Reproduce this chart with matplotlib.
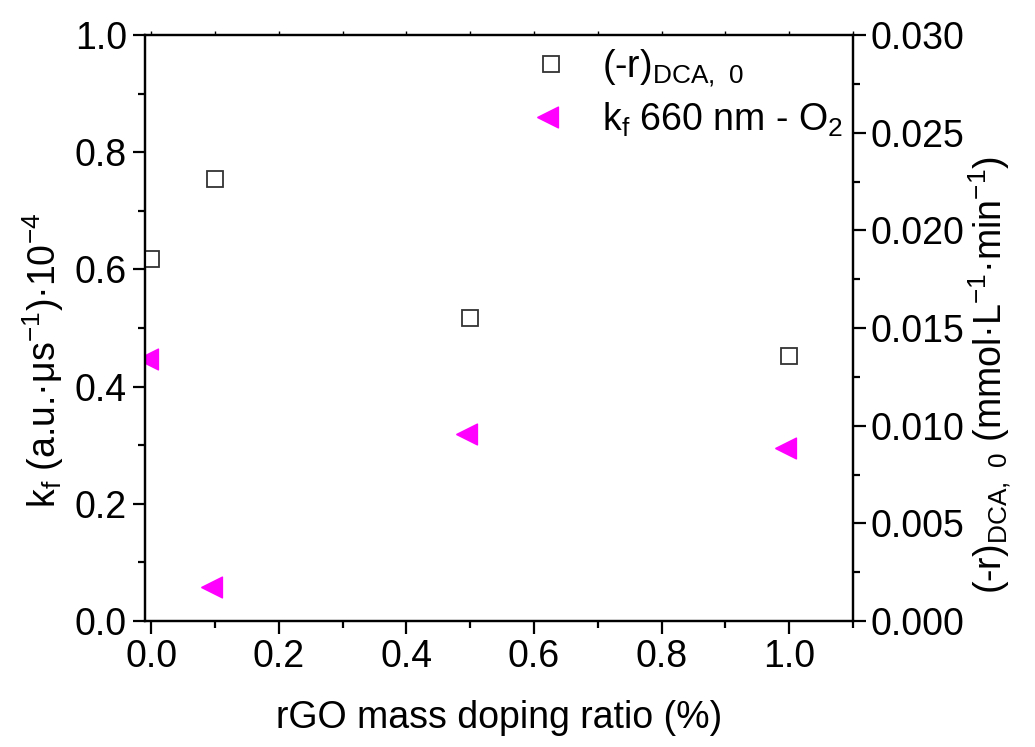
import numpy as np
import matplotlib.pyplot as plt
from matplotlib.ticker import MultipleLocator

plt.rcParams['font.family'] = ['Liberation Sans', 'DejaVu Sans']
plt.rcParams['mathtext.default'] = 'regular'

# data
doping = [0.0, 0.1, 0.5, 1.0]
rate_dca = [0.01854, 0.02265, 0.0155, 0.01358]   # right axis
kf_660 = [0.448, 0.058, 0.320, 0.296]            # left axis

fs = 27

# left-pointing triangle centred on its centroid (like the original software)
tri_left = [(-4 / 3, 0), (2 / 3, 1), (2 / 3, -1), (-4 / 3, 0)]

fig = plt.figure(figsize=(10.35, 7.47), dpi=100)
ax = fig.add_axes([0.140, 0.1687, 0.684, 0.7843])
ax2 = ax.twinx()

h2, = ax.plot(doping, kf_660, linestyle='none', marker=tri_left, markersize=20,
              color='#ff00ff', markeredgecolor='#ff00ff', label='k$_f$ 660 nm - O$_2$')
h1, = ax2.plot(doping, rate_dca, linestyle='none', marker='s', markersize=11,
               markerfacecolor='white', markeredgecolor='#333333', markeredgewidth=1.3,
               label='(-r)$_{DCA,\\ 0}$')

ax.set_xlim(-0.01, 1.1)
ax.set_ylim(0, 1.0)
ax2.set_ylim(0, 0.03)

ax.xaxis.set_minor_locator(MultipleLocator(0.1))
ax.yaxis.set_minor_locator(MultipleLocator(0.1))
ax2.yaxis.set_minor_locator(MultipleLocator(0.0025))

ax.set_xticks(np.arange(0, 1.01, 0.2))
ax.set_xticklabels(['0.0', '0.2', '0.4', '0.6', '0.8', '1.0'])
ax.set_yticks(np.arange(0, 1.01, 0.2))
ax.set_yticklabels(['0.0', '0.2', '0.4', '0.6', '0.8', '1.0'])
ax2.set_yticks(np.arange(0, 0.0301, 0.005))
ax2.set_yticklabels(['0.000', '0.005', '0.010', '0.015', '0.020', '0.025', '0.030'])

for a in (ax, ax2):
    for s in a.spines.values():
        s.set_linewidth(1.6)
    a.tick_params(which='major', length=9, width=1.6, direction='out', labelsize=fs, pad=4)
    a.tick_params(which='minor', length=5, width=1.6, direction='out')
# tiny ticks along the top spine
ax.tick_params(axis='x', which='both', top=True, labeltop=False)
for t in ax.xaxis.get_major_ticks() + ax.xaxis.get_minor_ticks():
    t.tick2line.set_markersize(3)
    t.tick2line.set_markeredgewidth(1.0)

ax.set_xlabel('rGO mass doping ratio (%)', fontsize=fs, labelpad=18)
ax.set_ylabel('k$_f$ (a.u.·μs$^{-1}$)·10$^{-4}$', fontsize=fs)
ax.yaxis.set_label_coords(-0.112, 0.445)
ax2.set_ylabel('(-r)$_{DCA,\\ 0}$ (mmol·L$^{-1}$·min$^{-1}$)', fontsize=fs)
ax2.yaxis.set_label_coords(1.16, 0.42)

ax2.legend([h1, h2], [h1.get_label(), h2.get_label()], loc='upper left',
           bbox_to_anchor=(0.5, 1.005), frameon=False, fontsize=fs,
           handletextpad=0.35, labelspacing=0.3, borderaxespad=0)

fig.savefig('out.png', dpi=100)
